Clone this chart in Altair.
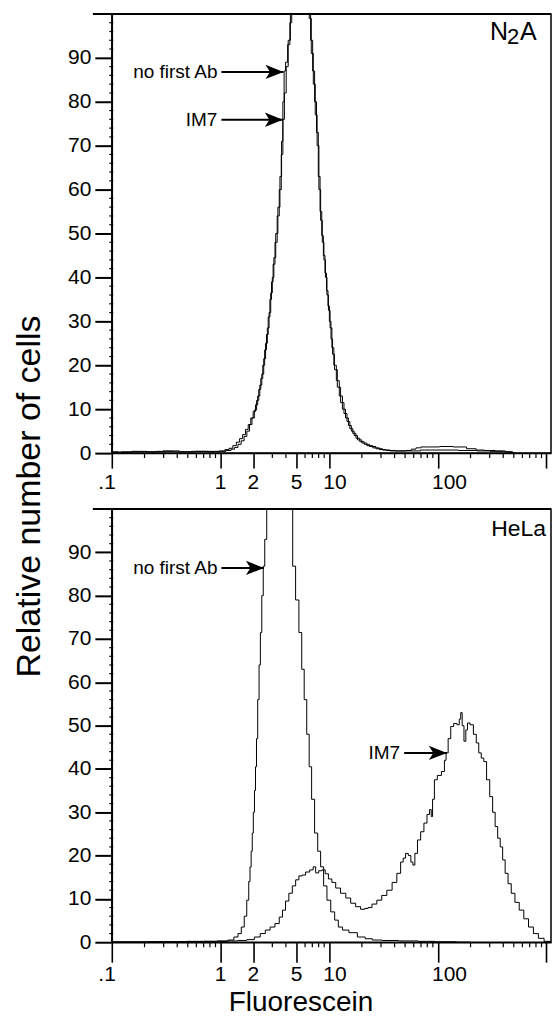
import altair as alt
import pandas as pd

# ---------------- data ----------------
N2A_NO_FIRST_AB = [
    (0.1, 0.3), (0.13, 0.2), (0.18, 0.4), (0.25, 0.3), (0.35, 0.5), (0.5, 0.3), (0.7, 0.4),
    (0.9, 0.4), (1.05, 0.5), (1.15, 0.8), (1.25, 1.1), (1.35, 1.7), (1.45, 2.5), (1.55, 3.3),
    (1.65, 4.2), (1.75, 5.4), (1.85, 6.5), (1.95, 8.0), (2.05, 9.5), (2.15, 11), (2.25, 13),
    (2.35, 15.5), (2.45, 18), (2.55, 21.5), (2.65, 25), (2.75, 28.5), (2.85, 32), (2.95, 36.5),
    (3.05, 40), (3.15, 44.5), (3.3, 50), (3.45, 56), (3.6, 63), (3.7, 71), (3.8, 80), (3.9, 87),
    (4.05, 89), (4.25, 93), (4.45, 98), (4.6, 104), (5.0, 118), (5.5, 125), (6.0, 115),
    (6.6, 104), (6.9, 94), (7.2, 87), (7.5, 80), (7.8, 73), (8.1, 63), (8.4, 55), (8.7, 49.5),
    (9.0, 45), (9.3, 41), (9.6, 37), (9.9, 33.5), (10.2, 30), (10.6, 26), (10.9, 22.5),
    (11.5, 19), (12.3, 15), (13.2, 11.5), (14.2, 9), (15.0, 7.2), (16.0, 5.6), (17.0, 4.5),
    (18.3, 3.4), (20, 2.6), (22, 2.0), (25, 1.5), (29, 1.0), (33, 0.7), (40, 0.5), (48, 0.5),
    (54, 0.6), (60, 0.9), (66, 1.2), (74, 1.4), (90, 1.4), (120, 1.5), (160, 1.4), (211, 1.0),
    (240, 0.7), (300, 0.6), (380, 0.5), (460, 0.3), (520, 0.0),
]
N2A_IM7 = [
    (0.1, 0.2), (0.15, 0.3), (0.22, 0.3), (0.3, 0.4), (0.45, 0.3), (0.65, 0.4), (0.9, 0.3),
    (1.05, 0.4), (1.2, 0.6), (1.3, 0.9), (1.4, 1.3), (1.5, 2.0), (1.6, 2.8), (1.7, 3.8),
    (1.8, 5.0), (1.9, 6.5), (2.0, 8.0), (2.1, 9.8), (2.2, 12), (2.3, 14.5), (2.4, 17),
    (2.5, 20), (2.6, 23.5), (2.7, 27), (2.8, 31), (2.9, 35), (3.0, 39), (3.1, 43), (3.25, 48),
    (3.4, 54), (3.55, 60), (3.7, 68), (3.8, 76), (3.95, 82), (4.1, 88), (4.3, 94), (4.5, 100),
    (4.7, 108), (5.2, 120), (5.8, 118), (6.4, 106), (6.7, 99), (7.0, 91), (7.3, 84), (7.6, 77),
    (7.9, 70), (8.2, 60), (8.5, 53), (8.8, 48), (9.1, 44), (9.4, 40), (9.7, 36), (10.0, 32.5),
    (10.4, 28.5), (10.8, 24), (11.3, 20), (12.0, 16.5), (12.8, 13), (13.7, 10), (14.6, 8),
    (15.5, 6.3), (16.5, 5), (17.5, 4), (19, 3), (21, 2.3), (23.5, 1.7), (27, 1.2), (31, 0.8),
    (36, 0.6), (45, 0.5), (60, 0.5), (80, 0.7), (120, 0.7), (200, 0.6), (260, 0.5), (350, 0.4),
    (450, 0.3), (500, 0.0),
]
HELA_NO_FIRST_AB = [
    (0.1, 0.1), (0.3, 0.1), (0.8, 0.2), (1.1, 0.3), (1.26, 0.5), (1.4, 1.2), (1.5, 2.0),
    (1.61, 3.5), (1.7, 6), (1.79, 9.7), (1.85, 14), (1.89, 17.4), (1.94, 21), (1.98, 25.2),
    (2.03, 30), (2.08, 35), (2.12, 40.5), (2.17, 47), (2.23, 56), (2.3, 64), (2.36, 71.5),
    (2.44, 80), (2.51, 86.8), (2.6, 93), (2.73, 103), (3.0, 118), (3.4, 125), (3.9, 120),
    (4.3, 108), (4.51, 100), (4.73, 86.8), (5.1, 79), (5.44, 71.5), (5.75, 63), (6.04, 56),
    (6.4, 48), (6.7, 40.5), (7.1, 33), (7.6, 25.2), (8.1, 21), (8.6, 17.4), (9.2, 13),
    (9.9, 9.7), (10.8, 7), (11.7, 5.1), (12.6, 3.5), (14, 2.8), (16.5, 2.2), (20, 1.2),
    (23, 0.8), (27, 0.5), (35, 0.4), (54, 0.3), (80, 0.2), (110, 0.1), (200, 0.0),
]
HELA_IM7 = [
    (0.1, 0.0), (0.5, 0.1), (1.0, 0.2), (1.3, 0.3), (1.6, 0.4), (1.91, 0.6), (2.2, 1.2),
    (2.45, 2.0), (2.73, 2.8), (3.0, 3.5), (3.35, 4.3), (3.6, 5.8), (3.84, 7.4), (4.1, 9.5),
    (4.42, 11.3), (4.75, 13), (5.09, 14.4), (5.45, 15.3), (5.84, 15.5), (6.3, 16.2),
    (6.96, 16.7), (7.3, 17.4), (7.74, 16.0), (8.3, 16.5), (8.9, 16.7), (9.5, 15.8),
    (10.2, 14.6), (11.0, 13.8), (12.0, 12.5), (13.5, 11.3), (15, 10.2), (16.6, 9.0),
    (18.5, 8.2), (20.5, 7.6), (22, 7.8), (23.6, 8.0), (26, 8.8), (29, 9.7), (32, 10.8),
    (36, 12), (40, 13.8), (44, 15.9), (47, 18.5), (49, 19.4), (52, 20.5), (55, 20), (58, 18.5),
    (60, 17.8), (63, 20.5), (67, 23.6), (72, 25.5), (77, 27.5), (82, 29.5), (86, 30.6),
    (88, 29), (91, 33), (95, 37.5), (103, 38.5), (113, 39.4), (117, 42), (121, 43.7),
    (128, 47), (135, 49.8), (145, 50.5), (155, 50.2), (160, 51.5), (165, 53), (170, 50),
    (178, 46.4), (184, 49), (191, 50.6), (205, 50.2), (220, 48), (232, 46), (244, 43.7),
    (258, 42.5), (272, 41.7), (290, 37.5), (311, 33.6), (328, 30), (346, 26.7), (365, 24),
    (385, 22), (405, 19), (428, 15.9), (458, 13.5), (490, 11.3), (535, 9.2), (588, 7.4),
    (650, 5.4), (718, 3.5), (800, 2.0), (887, 0.9), (1018, 0.2), (1100, 0.2),
]

# arrows: label, arrow start x, arrow end x, y (count)
N2A_ARROW_LABELS = ["no first Ab", "IM7"]
N2A_ARROW_START = [1.02, 1.02]
N2A_ARROW_END = [3.8, 3.75]
N2A_ARROW_Y = [86.8, 75.9]
HELA_ARROW_LABELS = ["no first Ab", "IM7"]
HELA_ARROW_START = [1.02, 49]
HELA_ARROW_END = [2.51, 121]
HELA_ARROW_Y = [86.4, 43.7]

X_MAJOR = [0.1, 1, 2, 5, 10, 100, 1000]
X_LABEL_VALUES = [1, 2, 5, 10, 100]
X_LABELS = ["1", "2", "5", "10", "100"]
X_DOT_LABEL_VALUES = [0.1]
X_DOT_LABELS = [".1"]
X_MINOR = [0.2, 0.3, 0.4, 0.5, 0.6, 0.7, 0.8, 0.9, 3, 4, 6, 7, 8, 9,
           20, 30, 40, 50, 60, 70, 80, 90, 200, 300, 400, 500, 600, 700, 800, 900]
Y_MAJOR = [0, 10, 20, 30, 40, 50, 60, 70, 80, 90]
Y_MINOR = [2, 4, 6, 8, 12, 14, 16, 18, 22, 24, 26, 28, 32, 34, 36, 38, 42, 44, 46, 48,
           52, 54, 56, 58, 62, 64, 66, 68, 72, 74, 76, 78, 82, 84, 86, 88, 92, 94, 96, 98]

FONT = "Liberation Sans"
W = 440
ARROW_PATH = "M0,0L-1,-0.4L-0.75,0L-1,0.4Z"
YTITLE_SIZE = 34


def panel(curve_a, curve_b, labels, starts, ends, ys, H, tick_len, label_gap, is_bottom, name_marks):
    df = pd.DataFrame(
        [{"x": x, "y": y, "series": "no first Ab"} for x, y in curve_a]
        + [{"x": x, "y": y, "series": "IM7"} for x, y in curve_b]
    )
    xscale = alt.Scale(type="log", domain=[0.1, 1100], nice=False)
    yscale = alt.Scale(domain=[0, 100], nice=False)
    if is_bottom:
        xaxis = alt.Axis(values=X_MAJOR, labels=False, tickSize=tick_len, tickWidth=1.6,
                         domainWidth=1.5, grid=False, title="Fluorescein", titleFont=FONT,
                         titleFontSize=28, titleFontWeight="normal", titleColor="black",
                         titleX=189, titleY=68, titleBaseline="alphabetic", titleAlign="center")
        yaxis = alt.Axis(values=Y_MAJOR, tickSize=17, tickWidth=2, labelPadding=4,
                         labelFontSize=21, labelFont=FONT, labelColor="black", domainWidth=1.5,
                         grid=False, title="Relative number of cells", titleFont=FONT,
                         titleFontSize=YTITLE_SIZE, titleFontWeight="normal", titleColor="black",
                         titleX=-65, titleY=-13, titleBaseline="bottom", titleAlign="center")
    else:
        xaxis = alt.Axis(values=X_MAJOR, labels=False, tickSize=tick_len, tickWidth=1.6,
                         domainWidth=1.5, grid=False, title=None)
        yaxis = alt.Axis(values=Y_MAJOR, tickSize=17, tickWidth=2, labelPadding=4,
                         labelFontSize=21, labelFont=FONT, labelColor="black", domainWidth=1.5,
                         grid=False, title=None)

    lines = alt.Chart(df).mark_line(interpolate="step", clip=True, color="black", strokeWidth=1).encode(
        x=alt.X("x:Q", scale=xscale, axis=xaxis),
        y=alt.Y("y:Q", scale=yscale, axis=yaxis),
        detail="series:N",
    )
    xminor = alt.Chart(pd.DataFrame({"x": X_MINOR})).mark_rule(color="black", strokeWidth=1.2).encode(
        x="x:Q", y=alt.value(H), y2=alt.value(H + 5)
    )
    yminor = alt.Chart(pd.DataFrame({"y": Y_MINOR})).mark_rule(color="black", strokeWidth=1.2).encode(
        y="y:Q", x=alt.value(-2.5), x2=alt.value(1.5)
    )
    xlab = alt.Chart(pd.DataFrame({"x": X_LABEL_VALUES, "t": X_LABELS})).mark_text(
        align="left", baseline="alphabetic", dx=-5.8, fontSize=21, font=FONT, color="black"
    ).encode(x="x:Q", y=alt.value(H + label_gap), text="t:N")
    xlab_dot = alt.Chart(pd.DataFrame({"x": X_DOT_LABEL_VALUES, "t": X_DOT_LABELS})).mark_text(
        align="right", baseline="alphabetic", dx=4, fontSize=21, font=FONT, color="black"
    ).encode(x="x:Q", y=alt.value(H + label_gap), text="t:N")
    topline = alt.Chart(pd.DataFrame({"k": [0]})).mark_rule(color="black", strokeWidth=2).encode(
        x=alt.value(-19), x2=alt.value(W), y=alt.value(0)
    )
    adf = pd.DataFrame({"label": labels, "x0": starts, "x1": ends, "y": ys})
    shafts = alt.Chart(adf).mark_rule(color="black", strokeWidth=2).encode(
        x="x0:Q", x2="x1:Q", y="y:Q"
    )
    heads = alt.Chart(adf).mark_point(shape=ARROW_PATH, filled=True, color="black", size=1300, opacity=1).encode(
        x="x1:Q", y="y:Q"
    )
    texts = alt.Chart(adf).mark_text(align="right", baseline="middle", dx=-4, fontSize=19, font=FONT, color="black").encode(
        x="x0:Q", y="y:Q", text="label:N"
    )
    layers = [lines, xminor, yminor, xlab, xlab_dot, topline, shafts, heads, texts] + name_marks
    return alt.layer(*layers).properties(width=W, height=H)


one = pd.DataFrame({"k": [0]})
n2a_name = [
    alt.Chart(one).mark_text(align="left", baseline="alphabetic", fontSize=25, font=FONT, color="black", text="N").encode(
        x=alt.value(W - 61), y=alt.value(26)),
    alt.Chart(one).mark_text(align="left", baseline="alphabetic", fontSize=22, font=FONT, color="black", text="2").encode(
        x=alt.value(W - 44), y=alt.value(30)),
    alt.Chart(one).mark_text(align="left", baseline="alphabetic", fontSize=25, font=FONT, color="black", text="A").encode(
        x=alt.value(W - 31), y=alt.value(26)),
]
hela_name = [
    alt.Chart(one).mark_text(align="right", baseline="alphabetic", fontSize=23, font=FONT, color="black", text="HeLa").encode(
        x=alt.value(W - 5), y=alt.value(27)),
]

top = panel(N2A_NO_FIRST_AB, N2A_IM7, N2A_ARROW_LABELS, N2A_ARROW_START, N2A_ARROW_END, N2A_ARROW_Y,
            440, 15, 36, False, n2a_name)
bottom = panel(HELA_NO_FIRST_AB, HELA_IM7, HELA_ARROW_LABELS, HELA_ARROW_START, HELA_ARROW_END, HELA_ARROW_Y,
               434, 20, 39, True, hela_name)

chart = alt.vconcat(top, bottom, spacing=56, bounds="flush").properties(
    padding={"left": 4, "top": 3, "right": -1, "bottom": 1},
    background="white",
).configure_view(stroke="black", strokeWidth=1.5).configure_axis(
    domainColor="black", tickColor="black", labelColor="black"
)

chart.save("out.html", embed_options={"renderer": "svg", "actions": False})
